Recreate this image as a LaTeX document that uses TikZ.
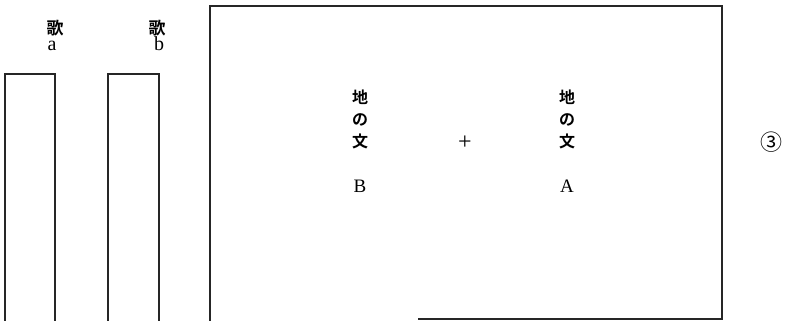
\documentclass[tikz,border=0pt]{standalone}
\usepackage{fontspec}
\setmainfont{Liberation Serif}
\newfontfamily\jpb{Noto Sans CJK JP Bold}
\newfontfamily\jpr{Noto Sans CJK JP}
\tikzset{
  frame/.style={line width=1.3pt, black!85},
  kanji/.style={font=\jpb\fontsize{16}{22}\selectfont, align=center, inner sep=0pt},
  utak/.style={font=\jpb\fontsize{17}{20}\selectfont, inner sep=0pt, anchor=base, text height=13pt, text depth=0pt},
  latin/.style={font=\fontsize{19}{20}\selectfont, inner sep=0pt},
  smlatin/.style={font=\fontsize{20}{20}\selectfont, inner sep=0pt, anchor=base, text height=9pt, text depth=0pt},
}
\begin{document}
\begin{tikzpicture}[x=1pt,y=-1pt]
\useasboundingbox (0,0) rectangle (787,321);
% song boxes (open at bottom)
\draw[frame] (5,321) -- (5,74) -- (55,74) -- (55,321);
\draw[frame] (108,321) -- (108,74) -- (159,74) -- (159,321);
% large frame
\draw[frame] (210,321) -- (210,6) -- (722,6) -- (722,319) -- (418,319);
% labels
\node[utak] (uta1) at (55,35) {歌};
\node[smlatin] (la) at (52,51) {a};
\node[utak] (uta2) at (157,35) {歌};
\node[smlatin] (lb) at (159,51) {b};
\node[kanji] (jiB) at (360,119) {地\\の\\文};
\node[latin] (B) at (360,186) {B};
\node[font=\fontsize{24}{24}\selectfont, inner sep=0pt] (plus) at (465,143) {+};
\node[kanji] (jiA) at (567,119) {地\\の\\文};
\node[latin] (A) at (567,186) {A};
\node[font=\jpr\fontsize{22}{22}\selectfont, inner sep=0pt] (three) at (771,142) {③};
\end{tikzpicture}
\end{document}
